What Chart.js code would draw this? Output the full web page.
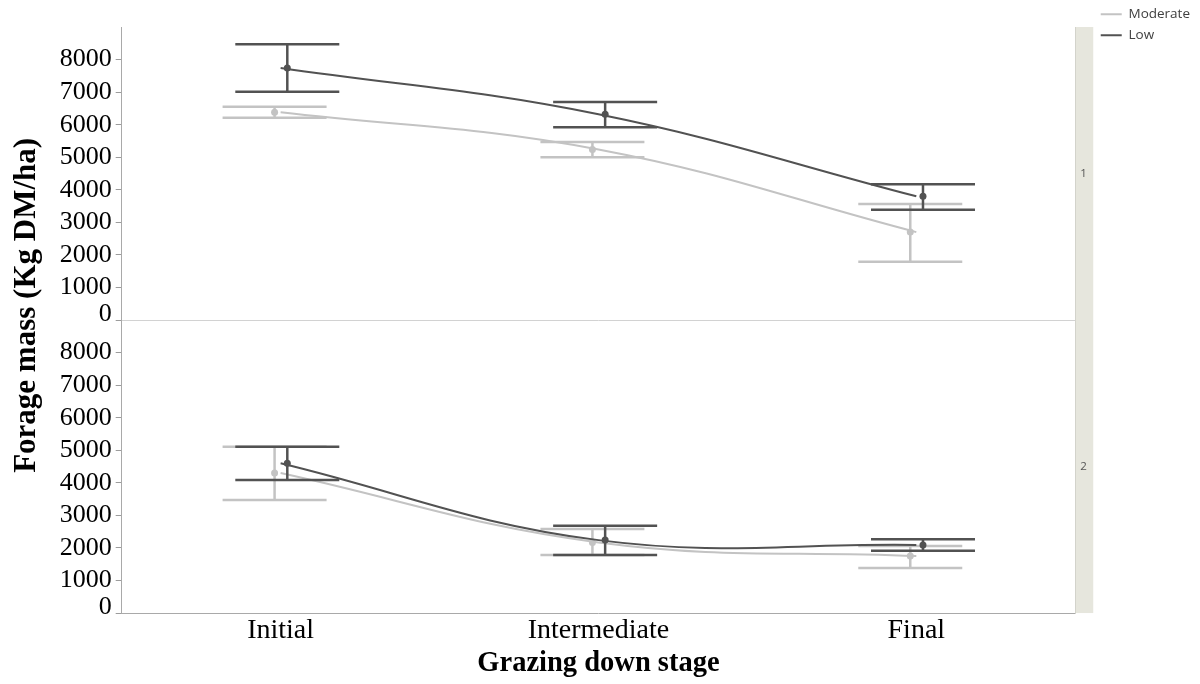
<!DOCTYPE html>
<html>
<head>
<meta charset="utf-8">
<title>Forage mass by grazing down stage</title>
<script src="https://cdn.jsdelivr.net/npm/chart.js@4.4.1/dist/chart.umd.min.js"></script>
<style>
  html, body { margin: 0; padding: 0; background: #ffffff; }
  #wrap { width: 1200px; height: 684px; position: relative; }
</style>
</head>
<body>
<div id="wrap"><canvas id="chart"></canvas></div>
<script>
// Grazing-down stages (x axis) and panel strip labels
const stages = ['Initial', 'Intermediate', 'Final'];
const panels = ['1', '2'];
const seriesNames = ['Moderate', 'Low'];
const yTickValues = [0, 1000, 2000, 3000, 4000, 5000, 6000, 7000, 8000];

// Panel 1: forage mass means with lower / upper interval bounds (kg DM/ha)
const moderate1Mean  = [6380, 5240, 2700];
const moderate1Lower = [6210, 5000, 1790];
const moderate1Upper = [6550, 5470, 3560];
const low1Mean  = [7740, 6320, 3800];
const low1Lower = [7010, 5920, 3390];
const low1Upper = [8470, 6700, 4170];

// Panel 2
const moderate2Mean  = [4300, 2170, 1750];
const moderate2Lower = [3470, 1780, 1380];
const moderate2Upper = [5110, 2580, 2060];
const low2Mean  = [4600, 2240, 2090];
const low2Lower = [4090, 1780, 1910];
const low2Upper = [5110, 2680, 2270];

const SERIF = "'Liberation Serif', 'Times New Roman', serif";
const SANS = "'Open Sans', 'Noto Sans', sans-serif";
const COLORS = { Moderate: '#c3c3c3', Low: '#525252' };
const DODGE = { Moderate: -0.019, Low: 0.021 };

// one mean curve (at the stage centre) plus dodged markers carrying the interval bounds
function seriesSets(name, mean, lower, upper, axisId, inLegend) {
  const color = COLORS[name];
  return [
    {
      type: 'line', label: name, yAxisID: axisId, inLegend,
      data: mean.map((v, i) => ({ x: i, y: v })),
      borderColor: color, backgroundColor: color, borderWidth: 2,
      pointRadius: 0, tension: 0.4, fill: false
    },
    {
      type: 'scatter', label: name, yAxisID: axisId, inLegend: false,
      data: mean.map((v, i) => ({ x: i + DODGE[name], y: v })),
      errLow: lower, errHigh: upper,
      backgroundColor: color, borderColor: color, pointRadius: 3.5, pointBorderWidth: 0
    }
  ];
}

// interval whiskers with caps, painted just before the marker dataset they belong to
const errorBars = {
  id: 'errorBars',
  beforeDatasetDraw(chart, args, opts) {
    const ds = chart.data.datasets[args.index];
    if (!ds.errLow) return;
    const { ctx, chartArea } = chart;
    const xs = chart.scales.x;
    const ys = chart.scales[ds.yAxisID];
    ctx.save();
    ctx.beginPath();
    ctx.rect(chartArea.left, chartArea.top, chartArea.width, chartArea.height);
    ctx.clip();
    ctx.strokeStyle = ds.borderColor;
    ctx.lineWidth = opts.width;
    ds.data.forEach((p, i) => {
      const x = xs.getPixelForValue(p.x);
      const yl = ys.getPixelForValue(ds.errLow[i]);
      const yh = ys.getPixelForValue(ds.errHigh[i]);
      ctx.beginPath();
      ctx.moveTo(x, yl); ctx.lineTo(x, yh);
      ctx.moveTo(x - opts.cap, yl); ctx.lineTo(x + opts.cap, yl);
      ctx.moveTo(x - opts.cap, yh); ctx.lineTo(x + opts.cap, yh);
      ctx.stroke();
    });
    ctx.restore();
  }
};

function panelAxis(weight, showSeparator) {
  return {
    type: 'linear', position: 'left', stack: 'panels', stackWeight: 1, weight,
    min: 0, max: 9000,
    afterBuildTicks: s => { s.ticks = yTickValues.map(v => ({ value: v })); },
    ticks: {
      autoSkip: false, color: '#000', padding: 4,
      callback: v => (v === 0 ? ['0', ''] : String(v)),
      font: c => ({ family: SERIF, size: 26, lineHeight: (c.tick && c.tick.value === 0) ? 0.45 : 1.2 })
    },
    grid: {
      drawOnChartArea: showSeparator, drawTicks: true, tickLength: 6,
      color: c => (c.tick && c.tick.value === 0) ? '#d2d2d2' : 'rgba(0,0,0,0)',
      tickColor: '#9c9c9c'
    },
    border: { display: true, color: '#a9a9a9', width: 1 }
  };
}

function stripAxis(i) {
  return {
    type: 'linear', position: 'right', stack: 'strip', stackWeight: 1, weight: i,
    min: 0, max: 1,
    backgroundColor: '#e6e6dd',
    afterBuildTicks: s => { s.ticks = [{ value: 0.5 }]; },
    afterFit: s => { s.width = 18; },
    ticks: { callback: () => panels[i], color: '#555', padding: 5, font: { family: SANS, size: 11.5 } },
    grid: { display: false, drawTicks: false },
    border: { display: true, color: '#d3d3cb' }
  };
}

const datasets = [
  ...seriesSets('Low', low1Mean, low1Lower, low1Upper, 'y1', true),
  ...seriesSets('Moderate', moderate1Mean, moderate1Lower, moderate1Upper, 'y1', true),
  ...seriesSets('Low', low2Mean, low2Lower, low2Upper, 'y2', false),
  ...seriesSets('Moderate', moderate2Mean, moderate2Lower, moderate2Upper, 'y2', false)
];

new Chart(document.getElementById('chart'), {
  type: 'scatter',
  data: { datasets },
  plugins: [errorBars],
  options: {
    responsive: true,
    maintainAspectRatio: false,
    animation: false,
    events: [],
    layout: { padding: { left: 4, right: 0, top: 0, bottom: 0 } },
    plugins: {
      tooltip: { enabled: false },
      errorBars: { width: 2.5, cap: 52 },
      legend: {
        position: 'right', align: 'start', maxWidth: 140,
        labels: {
          boxWidth: 21, boxHeight: 2, padding: 7.5, color: '#404040',
          font: { family: SANS, size: 13.5 },
          filter: (item, data) => data.datasets[item.datasetIndex].inLegend,
          sort: (a, b) => seriesNames.indexOf(a.text) - seriesNames.indexOf(b.text),
          generateLabels: chart => Chart.defaults.plugins.legend.labels.generateLabels(chart)
            .map(l => Object.assign(l, { lineWidth: 0 }))
        }
      }
    },
    scales: {
      x: {
        type: 'linear', position: 'bottom', min: -0.5, max: 2.5,
        afterBuildTicks: s => { s.ticks = stages.map((_, i) => ({ value: i })); },
        ticks: {
          autoSkip: false, maxRotation: 0, color: '#000', padding: 4,
          callback: v => stages[v],
          font: { family: SERIF, size: 28, lineHeight: 0.95 }
        },
        grid: { display: false, drawTicks: false },
        border: { display: true, color: '#a9a9a9' },
        title: {
          display: true, text: 'Grazing down stage', color: '#000',
          font: { family: SERIF, size: 28.5, weight: 'bold', lineHeight: 1.1 },
          padding: { top: 0, bottom: 5 }
        }
      },
      xTop: {
        type: 'linear', position: 'top',
        ticks: { display: false }, grid: { display: false, drawTicks: false }, border: { display: false },
        afterFit: s => { s.height = 27; }
      },
      // the axis title sits in the upper part of a two-part stack, so it is centred a little above mid-height
      yTitle: {
        type: 'linear', position: 'left', weight: 11, stack: 'titleColumn', stackWeight: 0.95,
        ticks: { display: false }, grid: { display: false, drawTicks: false }, border: { display: false },
        title: {
          display: true, text: 'Forage mass (Kg DM/ha)', color: '#000',
          font: { family: SERIF, size: 31, weight: 'bold', lineHeight: 1.2 },
          padding: { top: 4, bottom: 10.5 }
        }
      },
      yTitleBase: {
        type: 'linear', position: 'left', weight: 10, stack: 'titleColumn', stackWeight: 0.05,
        ticks: { display: false }, grid: { display: false, drawTicks: false }, border: { display: false }
      },
      y1: panelAxis(2, true),
      y2: panelAxis(1, false),
      r1: stripAxis(0),
      r2: stripAxis(1)
    }
  }
});
</script>
</body>
</html>
